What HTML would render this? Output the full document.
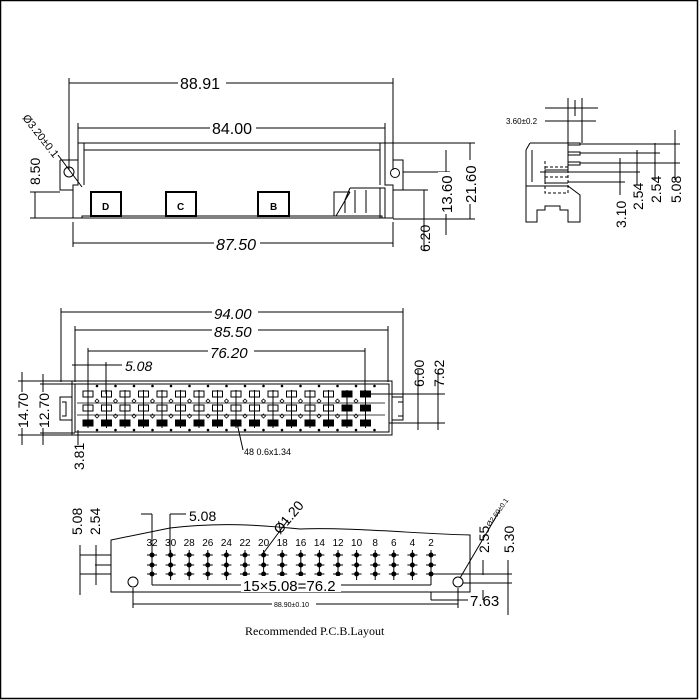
<!DOCTYPE html>
<html><head><meta charset="utf-8"><style>
html,body{margin:0;padding:0;background:#fff}
svg{display:block}
text{font-family:"Liberation Sans",sans-serif;fill:#000}
</style></head><body>
<svg id="s" width="700" height="700" viewBox="0 0 700 700" xmlns="http://www.w3.org/2000/svg" stroke="#000" fill="none" stroke-width="1">
<rect x="0.5" y="0.5" width="697" height="698" stroke-width="1.5"/>
<!-- TOP VIEW -->
<g>
<line x1="69" y1="78" x2="69" y2="170"/><line x1="393" y1="78" x2="393" y2="170"/>
<line x1="69" y1="83" x2="393" y2="83"/>
<rect x="178" y="74" width="48" height="16" fill="#fff" stroke="none"/>
<text x="180" y="89" font-size="16" stroke="none">88.91</text>
<line x1="78" y1="123" x2="78" y2="143"/><line x1="385" y1="123" x2="385" y2="143"/>
<line x1="78" y1="128" x2="385" y2="128"/>
<rect x="210" y="119" width="46" height="16" fill="#fff" stroke="none"/>
<text x="212" y="134" font-size="16" stroke="none">84.00</text>
<path d="M78 143 H385 M84 150 H380 M78 143 V185 H73 V218 H393 V185 H385 V143 M84 143 V185 M380 143 V185"/>
<path d="M60 160 H78 M60 160 V190 H73 M393 160 H403 V190 H393"/>
<circle cx="69" cy="172" r="5"/><circle cx="395" cy="173" r="4.5"/>
<path d="M82 218 V216 H382 V218"/>
<rect x="91" y="192" width="30" height="24" stroke-width="2"/><text x="102" y="210" font-size="10" font-weight="bold" stroke="none">D</text>
<rect x="166" y="192" width="30" height="24" stroke-width="2"/><text x="177" y="210" font-size="10" font-weight="bold" stroke="none">C</text>
<rect x="258" y="192" width="31" height="24" stroke-width="2"/><text x="270" y="210" font-size="10" font-weight="bold" stroke="none">B</text>
<path d="M334 216 V192 H350 M336 216 L350 192 M350 188 H385 V218 M380 188 V218 M355 190 V213 M366 190 V213 M350 188 L345 200 V213"/>
<line x1="73" y1="222" x2="73" y2="247"/><line x1="393" y1="222" x2="393" y2="247"/>
<line x1="73" y1="243" x2="393" y2="243"/>
<rect x="214" y="235" width="46" height="16" fill="#fff" stroke="none"/>
<text x="216" y="250" font-size="16" stroke="none" font-style="italic">87.50</text>
<line x1="385" y1="143" x2="475" y2="143"/><line x1="403" y1="172" x2="450" y2="172"/><line x1="403" y1="190" x2="428" y2="190"/><line x1="393" y1="219" x2="475" y2="219"/>
<line x1="470" y1="143" x2="470" y2="219"/><line x1="446" y1="150" x2="446" y2="235"/><line x1="424" y1="190" x2="424" y2="250"/>
<rect x="462" y="160" width="16" height="44" fill="#fff" stroke="none"/>
<text transform="translate(476,203) rotate(-90)" font-size="15" stroke="none">21.60</text>
<rect x="438" y="172" width="16" height="42" fill="#fff" stroke="none"/>
<text transform="translate(452,213) rotate(-90)" font-size="15" stroke="none">13.60</text>
<text transform="translate(430,252) rotate(-90)" font-size="14" stroke="none">6.20</text>
<line x1="30" y1="192" x2="60" y2="192"/><line x1="30" y1="218" x2="73" y2="218"/>
<line x1="35" y1="192" x2="35" y2="218"/>
<text transform="translate(40,185) rotate(-90)" font-size="14" stroke="none">8.50</text>
<line x1="58" y1="155" x2="82" y2="187"/>
<text transform="translate(22,118) rotate(52)" font-size="11" stroke="none">Ø3.20±0.1</text>
</g>
<!-- SIDE VIEW -->
<g>
<path d="M568 98 V143 M582 98 V143 M545 108 H568 M582 108 H598 M575 100 V116 M568 108 H575 M575 108 H582"/>
<line x1="545" y1="121" x2="596" y2="121"/>
<text x="506" y="124" font-size="8" stroke="none">3.60±0.2</text>
<path d="M530 143 H568 V170 H545 V183 H568 M526 150 L530 143 M526 150 V186 M532 150 V182 M568 143 H580 V145 H568 M568 152 H580 V155 H568 M568 162 H580 V165 H568"/>
<path d="M545 161 V193 H568 V161 M545 167 H568 M545 177 H568" stroke-dasharray="3,2"/>
<line x1="540" y1="172" x2="640" y2="172"/>
<path d="M526 186 H568 L580 195 V222 H568 V210 H560 V206 H545 V210 H537 V222 H526 Z"/>
<line x1="580" y1="144" x2="680" y2="144"/><line x1="580" y1="153" x2="660" y2="153"/><line x1="580" y1="163" x2="680" y2="163"/>
<line x1="568" y1="182" x2="625" y2="182"/>
<line x1="675" y1="130" x2="675" y2="180"/><line x1="655" y1="143" x2="655" y2="180"/><line x1="637" y1="150" x2="637" y2="185"/><line x1="620" y1="158" x2="620" y2="195"/>
<text transform="translate(626,228) rotate(-90)" font-size="14" stroke="none">3.10</text>
<text transform="translate(643,210) rotate(-90)" font-size="14" stroke="none">2.54</text>
<text transform="translate(661,203) rotate(-90)" font-size="14" stroke="none">2.54</text>
<text transform="translate(681,203) rotate(-90)" font-size="14" stroke="none">5.08</text>
</g>
<!-- MIDDLE VIEW -->
<g>
<line x1="61" y1="308" x2="61" y2="382"/><line x1="403" y1="308" x2="403" y2="398"/>
<line x1="61" y1="312" x2="403" y2="312"/>
<rect x="212" y="304" width="46" height="16" fill="#fff" stroke="none"/>
<text x="214" y="319" font-size="15" stroke="none" font-style="italic">94.00</text>
<line x1="75" y1="326" x2="75" y2="382"/><line x1="388" y1="326" x2="388" y2="382"/>
<line x1="75" y1="330" x2="388" y2="330"/>
<rect x="212" y="322" width="46" height="16" fill="#fff" stroke="none"/>
<text x="214" y="337" font-size="15" stroke="none" font-style="italic">85.50</text>
<line x1="88" y1="348" x2="88" y2="394"/><line x1="365" y1="348" x2="365" y2="394"/>
<line x1="88" y1="351" x2="365" y2="351"/>
<rect x="208" y="343" width="46" height="16" fill="#fff" stroke="none"/>
<text x="210" y="358" font-size="15" stroke="none" font-style="italic">76.20</text>
<line x1="106" y1="362" x2="106" y2="394"/><line x1="72" y1="365" x2="122" y2="365"/>
<text x="125" y="371" font-size="14" stroke="none" font-style="italic">5.08</text>
<rect x="72" y="381" width="320" height="54"/>
<rect x="75" y="384" width="314" height="48"/>
<path d="M60 397 H72 V420 H60 Z M62 402 H66 V416 H62 M392 397 H403 V420 H392 M398 402 H403 V416 H398"/>
<line x1="77" y1="403" x2="385" y2="403" stroke-width="0.7"/>
<line x1="77" y1="415" x2="385" y2="415" stroke-width="0.7"/>
<g id="pins"></g>
<line x1="18" y1="381" x2="72" y2="381"/><line x1="18" y1="435" x2="72" y2="435"/>
<line x1="22" y1="372" x2="22" y2="445"/>
<rect x="14" y="392" width="16" height="36" fill="#fff" stroke="none"/>
<text transform="translate(28,428) rotate(-90)" font-size="14" stroke="none">14.70</text>
<line x1="40" y1="384" x2="75" y2="384"/><line x1="40" y1="433" x2="75" y2="433"/>
<line x1="43" y1="374" x2="43" y2="445"/>
<rect x="35" y="392" width="16" height="36" fill="#fff" stroke="none"/>
<text transform="translate(49,428) rotate(-90)" font-size="14" stroke="none">12.70</text>
<line x1="78" y1="430" x2="78" y2="445"/>
<text transform="translate(84,470) rotate(-90)" font-size="14" stroke="none">3.81</text>
<line x1="366" y1="394" x2="445" y2="394"/><line x1="389" y1="423" x2="445" y2="423"/>
<line x1="418" y1="370" x2="418" y2="430"/><line x1="438" y1="370" x2="438" y2="430"/>
<text transform="translate(424,387) rotate(-90)" font-size="14" stroke="none">6.00</text>
<text transform="translate(444,387) rotate(-90)" font-size="14" stroke="none">7.62</text>
<line x1="237" y1="423" x2="243" y2="450"/>
<text x="244" y="455" font-size="9" stroke="none">48 0.6x1.34</text>
</g>
<!-- BOTTOM VIEW -->
<g>
<path d="M111 592 V540 L170 528 C220 522 260 525 300 529 C350 527 420 534 470 535 V592 H111 Z"/>
<g id="pcb"></g>
<circle cx="133" cy="582" r="5"/><circle cx="458" cy="582" r="5"/>
<line x1="152" y1="576" x2="152" y2="585"/><line x1="431" y1="576" x2="431" y2="585"/>
<line x1="152" y1="585" x2="431" y2="585"/>
<rect x="241" y="576" width="100" height="16" fill="#fff" stroke="none"/>
<text x="243" y="591" font-size="15" stroke="none">15×5.08=76.2</text>
<line x1="133" y1="588" x2="133" y2="608"/><line x1="458" y1="588" x2="458" y2="608"/>
<line x1="133" y1="604" x2="458" y2="604"/>
<rect x="272" y="599" width="44" height="10" fill="#fff" stroke="none"/>
<text x="274" y="607" font-size="7" stroke="none">88.90±0.10</text>
<text x="245" y="635" font-size="12" stroke="none" style="font-family:'Liberation Serif',serif">Recommended P.C.B.Layout</text>
<line x1="141" y1="514" x2="152" y2="514"/><line x1="152" y1="514" x2="152" y2="556"/>
<line x1="170" y1="514" x2="186" y2="514"/><line x1="170" y1="514" x2="170" y2="556"/>
<text x="189" y="521" font-size="14" stroke="none">5.08</text>
<line x1="262" y1="555" x2="288" y2="520"/>
<text transform="translate(280,535) rotate(-50)" font-size="14" stroke="none">Ø1.20</text>
<line x1="80" y1="555" x2="111" y2="555"/><line x1="95" y1="565" x2="111" y2="565"/><line x1="80" y1="574" x2="111" y2="574"/>
<line x1="80" y1="545" x2="80" y2="595"/><line x1="96" y1="545" x2="96" y2="585"/>
<text transform="translate(82,535) rotate(-90)" font-size="14" stroke="none">5.08</text>
<text transform="translate(100,535) rotate(-90)" font-size="14" stroke="none">2.54</text>
<line x1="431" y1="574" x2="512" y2="574"/><line x1="463" y1="583" x2="512" y2="583"/>
<line x1="431" y1="592" x2="431" y2="600"/><line x1="431" y1="600" x2="468" y2="600"/>
<line x1="483" y1="560" x2="483" y2="575"/><line x1="508" y1="560" x2="508" y2="600"/>
<line x1="483" y1="590" x2="483" y2="600"/><line x1="508" y1="600" x2="508" y2="615"/>
<text transform="translate(489,553) rotate(-90)" font-size="14" stroke="none">2.55</text>
<text transform="translate(514,553) rotate(-90)" font-size="14" stroke="none">5.30</text>
<text x="470" y="606" font-size="15" stroke="none">7.63</text>
<line x1="460" y1="578" x2="500" y2="510"/>
<text transform="translate(490,527) rotate(-55)" font-size="7" stroke="none">Ø2.60±0.1</text>
</g>
</svg>
<script>
var ns="http://www.w3.org/2000/svg";
function el(p,t,a){var e=document.createElementNS(ns,t);for(var k in a)e.setAttribute(k,a[k]);p.appendChild(e);return e;}
var g=document.getElementById("pins");
for(var i=0;i<16;i++){var x=88+i*18.5;
 [394,408].forEach(function(y){el(g,"rect",{x:x-5,y:y-3,width:10,height:6,fill:i>=14?"#000":"none",stroke:"#000"});});
 el(g,"rect",{x:x-5,y:420,width:10,height:6,fill:"#000"});
 el(g,"line",{x1:x,y1:390,x2:x,y2:428,stroke:"#000"});
 if(i<15){[401,416].forEach(function(y){el(g,"path",{d:"M"+(x+9)+" "+(y-2)+" l2 2 l-2 2 l-2 -2z",stroke:"#000","stroke-width":"0.8"});});}
}
for(var j=0;j<16;j++){var x2=97+j*18.5;el(g,"circle",{cx:x2,cy:386,r:0.8,fill:"#000"});el(g,"circle",{cx:x2,cy:430,r:0.8,fill:"#000"});}
var p=document.getElementById("pcb");
var nums=["32","30","28","26","24","22","20","18","16","14","12","10","8","6","4","2"];
for(var i=0;i<16;i++){var x=152+i*18.6;
 el(p,"line",{x1:x,y1:550,x2:x,y2:580,stroke:"#000"});
 [555,565,574].forEach(function(y){el(p,"line",{x1:x-5,y1:y,x2:x+5,y2:y,stroke:"#000"});el(p,"circle",{cx:x,cy:y,r:2,fill:"#000"});});
 var t=el(p,"text",{x:x,y:546,"font-size":"10","text-anchor":"middle",stroke:"none"});t.textContent=nums[i];
}
</script>
</body></html>
